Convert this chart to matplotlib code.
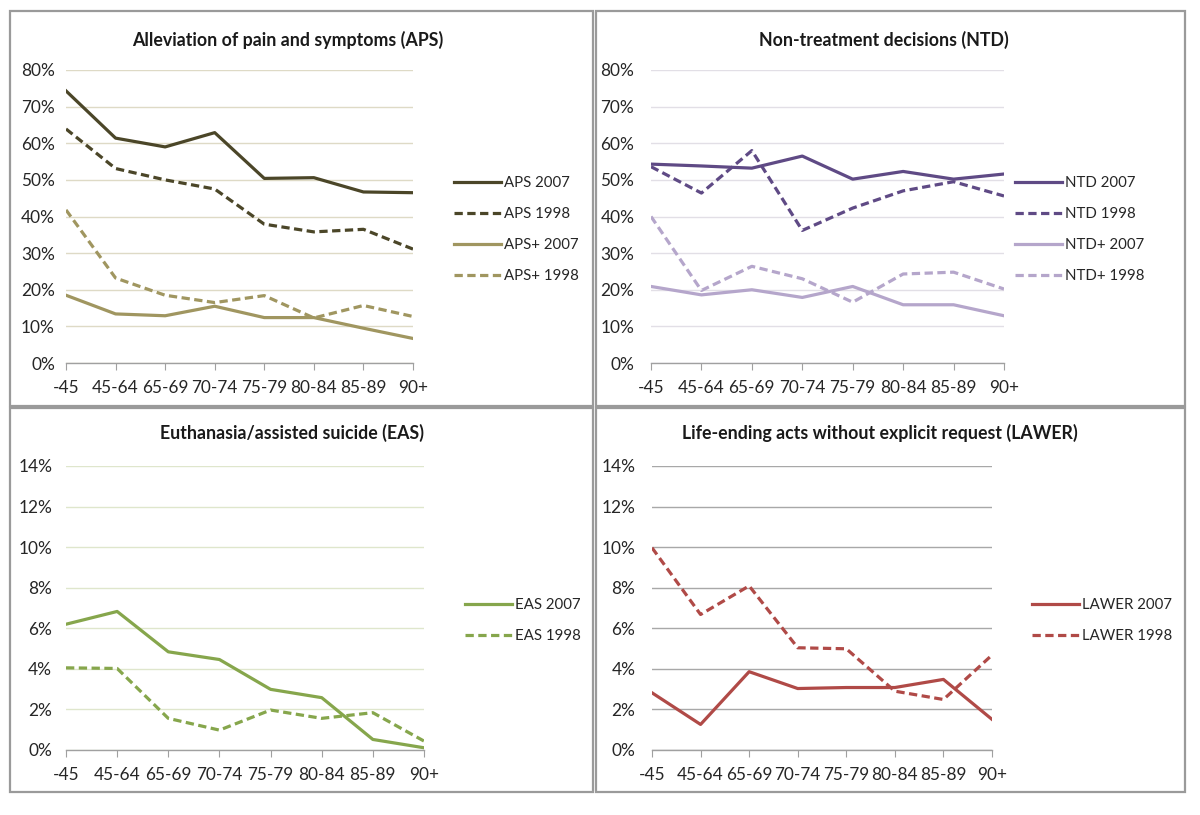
import matplotlib
matplotlib.use("Agg")
import matplotlib.pyplot as plt
from matplotlib.patches import Rectangle
from matplotlib.ticker import FuncFormatter, MultipleLocator

plt.rcParams['font.family'] = ['Lato', 'DejaVu Sans']

# ---- data ----
age_groups = ["-45", "45-64", "65-69", "70-74", "75-79", "80-84", "85-89", "90+"]

aps_2007 = [74.3, 61.4, 59.0, 62.9, 50.4, 50.6, 46.7, 46.5]
aps_1998 = [63.9, 53.1, 50.0, 47.5, 37.9, 35.8, 36.5, 31.1]
apsp_2007 = [18.5, 13.4, 12.9, 15.5, 12.4, 12.4, 9.5, 6.7]
apsp_1998 = [41.8, 23.2, 18.5, 16.5, 18.4, 12.3, 15.7, 12.7]

ntd_2007 = [54.3, 53.8, 53.2, 56.5, 50.2, 52.3, 50.2, 51.6]
ntd_1998 = [53.6, 46.4, 58.0, 36.2, 42.3, 47.0, 49.5, 45.6]
ntdp_2007 = [20.9, 18.6, 20.0, 17.9, 20.9, 15.9, 15.9, 12.9]
ntdp_1998 = [40.0, 19.8, 26.4, 23.0, 16.6, 24.3, 24.8, 20.2]

eas_2007 = [6.2, 6.83, 4.84, 4.46, 2.99, 2.58, 0.52, 0.11]
eas_1998 = [4.05, 4.02, 1.56, 0.98, 1.97, 1.56, 1.84, 0.44]

lawer_2007 = [2.82, 1.26, 3.86, 3.03, 3.08, 3.08, 3.48, 1.51]
lawer_1998 = [9.97, 6.68, 8.09, 5.04, 4.99, 2.90, 2.49, 4.68]

titles = ["Alleviation of pain and symptoms (APS)",
          "Non-treatment decisions (NTD)",
          "Euthanasia/assisted suicide (EAS)",
          "Life-ending acts without explicit request (LAWER)"]

# ---- figure ----
W, H = 1200, 815
fig = plt.figure(figsize=(W / 100, H / 100), dpi=100)
fig.patch.set_facecolor("white")


def fx(px):
    return px / W


def fy(py):
    return 1 - py / H


# panel boxes
for (x0, y0, x1, y1) in [(10, 11, 593, 406), (596, 11, 1185, 406),
                         (10, 408, 593, 792), (596, 408, 1185, 792)]:
    fig.add_artist(Rectangle((fx(x0), fy(y1)), fx(x1 - x0), (y1 - y0) / H,
                             transform=fig.transFigure, fill=False,
                             edgecolor="#9a9a9a", linewidth=1.6))

DASH = (2.6, 1.4)
LW = 2.3
txt_col = "#262626"
TICK_FS = 12.4


def make_axes(left_px, right_px, top_px, bottom_px, ymax, ystep, gridcol, ypad):
    ax = fig.add_axes([fx(left_px), fy(bottom_px), fx(right_px - left_px),
                       (bottom_px - top_px) / H])
    ax.set_xlim(0, len(age_groups) - 1)
    ax.set_ylim(0, ymax)
    ax.yaxis.set_major_locator(MultipleLocator(ystep))
    ax.yaxis.set_major_formatter(FuncFormatter(lambda v, p: f"{v:.0f}%"))
    ax.set_xticks(range(len(age_groups)))
    ax.set_xticklabels(age_groups)
    for s in ["top", "right", "left"]:
        ax.spines[s].set_visible(False)
    ax.spines["bottom"].set_color("#a0a0a0")
    ax.spines["bottom"].set_linewidth(1.0)
    ax.tick_params(axis="x", length=5, color="#a0a0a0", pad=7,
                   labelsize=TICK_FS, labelcolor=txt_col)
    ax.tick_params(axis="y", length=0, pad=ypad, labelsize=TICK_FS,
                   labelcolor=txt_col)
    ax.grid(axis="y", color=gridcol, linewidth=1.0)
    ax.set_axisbelow(True)
    return ax


def add_legend(ax, x_px, y_first_px):
    ax.legend(loc="upper left",
              bbox_to_anchor=(fx(x_px), fy(y_first_px - 6)),
              bbox_transform=fig.transFigure, frameon=False,
              fontsize=10.8, handlelength=3.1, handletextpad=0.25,
              labelspacing=1.14, borderaxespad=0, borderpad=0,
              labelcolor=txt_col)


x = list(range(len(age_groups)))

# Panel 1: APS
c_aps, c_apsp = "#4b4628", "#a09660"
ax1 = make_axes(66, 413, 70, 363, 80, 10, "#dedac6", 8)
ax1.plot(x, aps_2007, color=c_aps, lw=LW, label="APS 2007")
ax1.plot(x, aps_1998, color=c_aps, lw=LW, dashes=DASH, label="APS 1998")
ax1.plot(x, apsp_2007, color=c_apsp, lw=LW, label="APS+ 2007")
ax1.plot(x, apsp_1998, color=c_apsp, lw=LW, dashes=DASH, label="APS+ 1998")
add_legend(ax1, 454, 182)

# Panel 2: NTD
c_ntd, c_ntdp = "#5f4a85", "#b5a6cb"
ax2 = make_axes(651, 1004, 70, 363, 80, 10, "#e2dfe6", 12)
ax2.plot(x, ntd_2007, color=c_ntd, lw=LW, label="NTD 2007")
ax2.plot(x, ntd_1998, color=c_ntd, lw=LW, dashes=DASH, label="NTD 1998")
ax2.plot(x, ntdp_2007, color=c_ntdp, lw=LW, label="NTD+ 2007")
ax2.plot(x, ntdp_1998, color=c_ntdp, lw=LW, dashes=DASH, label="NTD+ 1998")
add_legend(ax2, 1015, 182)

# Panel 3: EAS
c_eas = "#86a64c"
ax3 = make_axes(66, 424, 466, 750, 14, 2, "#dfe6cc", 10)
ax3.plot(x, eas_2007, color=c_eas, lw=LW, label="EAS 2007")
ax3.plot(x, eas_1998, color=c_eas, lw=LW, dashes=DASH, label="EAS 1998")
add_legend(ax3, 465, 604)

# Panel 4: LAWER
c_law = "#b04a47"
ax4 = make_axes(652, 992, 466, 750, 14, 2, "#a8a8a8", 12)
ax4.plot(x, lawer_2007, color=c_law, lw=LW, label="LAWER 2007")
ax4.plot(x, lawer_1998, color=c_law, lw=LW, dashes=DASH, label="LAWER 1998")
add_legend(ax4, 1032, 604)

# titles
for t, (cx, cy) in zip(titles, [(288, 40), (884, 40), (292, 433), (880, 433)]):
    fig.text(fx(cx), fy(cy), t, ha="center", va="center", fontsize=12.8,
             fontweight="bold", color="#1a1a1a")

fig.savefig("out.png", dpi=100, facecolor="white")
